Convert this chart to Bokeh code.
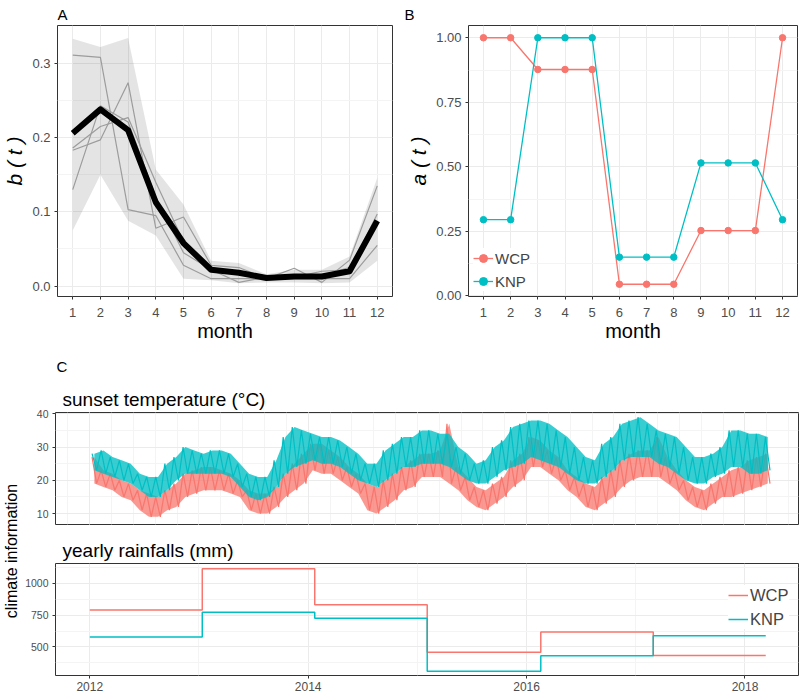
import math
from bokeh.plotting import figure
from bokeh.layouts import row, column
from bokeh.models import (Range1d, FixedTicker, Title, Legend, LegendItem, Grid,
                          PrintfTickFormatter, Label)
from bokeh.embed import file_html
from bokeh.resources import INLINE

FONT = "Liberation Sans"
RED = "#F8766D"
TEAL = "#00BFC4"
TICK_COL = "#4D4D4D"
GRID_MAJ = "#EBEBEB"
GRID_MIN = "#F4F4F4"

# ---------------- Panel A data ----------------
months = [1, 2, 3, 4, 5, 6, 7, 8, 9, 10, 11, 12]
b_mean = [0.206, 0.238, 0.210, 0.113, 0.058, 0.022, 0.018, 0.011, 0.013, 0.013, 0.020, 0.088]
b_upper = [0.333, 0.322, 0.334, 0.157, 0.110, 0.034, 0.031, 0.016, 0.022, 0.022, 0.040, 0.146]
b_lower = [0.075, 0.150, 0.088, 0.068, 0.010, 0.008, 0.004, 0.005, 0.005, 0.004, 0.005, 0.034]
b_run1 = [0.311, 0.308, 0.103, 0.095, 0.028, 0.010, 0.010, 0.010, 0.010, 0.010, 0.010, 0.055]
b_run2 = [0.183, 0.197, 0.274, 0.078, 0.093, 0.028, 0.025, 0.010, 0.024, 0.005, 0.035, 0.135]
b_run3 = [0.130, 0.243, 0.221, 0.120, 0.045, 0.022, 0.005, 0.012, 0.012, 0.020, 0.022, 0.097]
b_run4 = [0.186, 0.215, 0.227, 0.140, 0.060, 0.020, 0.020, 0.010, 0.012, 0.015, 0.025, 0.085]

# ---------------- Panel B data ----------------
a_wcp = [1.00, 1.00, 0.877, 0.877, 0.877, 0.045, 0.045, 0.045, 0.253, 0.253, 0.253, 1.00]
a_knp = [0.295, 0.295, 1.00, 1.00, 1.00, 0.150, 0.150, 0.150, 0.515, 0.515, 0.515, 0.295]

# ---------------- Panel C data ----------------
# monthly high / low of the daily sunset temperature, Jan 2012 .. Mar 2018
knp_hi = [28, 29, 27, 26, 25, 22, 21, 21, 25, 27, 30, 29,
          28, 29, 29, 28, 25, 22, 21, 21, 26, 33, 36, 35,
          34, 33, 33, 32, 30, 28, 25, 25, 29, 31, 33, 33,
          35, 35, 34, 34, 30, 28, 25, 26, 30, 32, 36, 37,
          38, 38, 37, 35, 33, 30, 27, 26, 31, 33, 37, 38,
          39, 37, 35, 34, 33, 30, 27, 27, 28, 30, 35, 35,
          34, 34, 33]
knp_lo = [23, 22, 21, 20, 19, 17, 15, 15, 17, 20, 22, 22,
          22, 22, 22, 21, 18, 15, 14, 15, 18, 22, 24, 25,
          26, 25, 25, 24, 22, 20, 19, 18, 20, 22, 24, 24,
          25, 25, 25, 24, 22, 20, 19, 19, 21, 23, 24, 25,
          27, 26, 25, 24, 22, 20, 19, 19, 21, 23, 26, 27,
          27, 27, 25, 24, 22, 20, 19, 19, 21, 22, 24, 24,
          22, 22, 23]
wcp_hi = [27, 23, 22, 20, 19, 17, 16, 15, 17, 19, 22, 23,
          24, 24, 23, 22, 20, 17, 16, 16, 18, 22, 25, 28,
          31, 31, 29, 27, 24, 22, 19, 18, 20, 22, 24, 26,
          28, 28, 29, 37, 24, 21, 18, 17, 19, 21, 26, 28,
          33, 32, 29, 27, 23, 21, 19, 18, 21, 23, 26, 28,
          29, 29, 33, 27, 23, 20, 18, 17, 19, 21, 23, 24,
          26, 27, 28]
wcp_lo = [19, 18, 17, 15, 14, 11, 9, 9, 11, 12, 15, 16,
          17, 17, 17, 16, 15, 11, 10, 10, 12, 15, 17, 19,
          23, 22, 22, 20, 18, 16, 11, 10, 12, 14, 17, 18,
          21, 21, 21, 19, 17, 14, 12, 11, 13, 15, 18, 20,
          24, 24, 22, 20, 17, 15, 12, 11, 13, 15, 18, 20,
          21, 21, 21, 19, 17, 14, 12, 11, 13, 15, 15, 16,
          17, 18, 19]
temp_start_year = 2012

rain_years = [2012.00, 2013.03, 2014.06, 2015.09, 2016.13, 2017.16, 2018.19]
wcp_rain = [790, 1112, 830, 458, 617, 433, 433]
knp_rain = [578, 772, 725, 310, 432, 587, 587]


def base_style(p):
    p.outline_line_color = "#333333"
    p.outline_line_width = 1
    p.border_fill_color = "white"
    p.background_fill_color = "white"


def style_axis(ax, size="13px", standoff=3):
    ax.axis_line_color = None
    ax.major_tick_line_color = "#333333"
    ax.major_tick_out = 3
    ax.major_tick_in = 0
    ax.minor_tick_line_color = None
    ax.major_label_text_font = FONT
    ax.major_label_text_font_size = size
    ax.major_label_text_color = TICK_COL
    ax.major_label_standoff = standoff
    ax.axis_label_text_font = FONT
    ax.axis_label_text_font_style = "normal"
    ax.axis_label_text_color = "black"
    ax.axis_label_text_font_size = "20px"
    ax.axis_label_standoff = 3


def style_grid(g):
    g.grid_line_color = GRID_MAJ
    g.grid_line_width = 1
    g.minor_grid_line_color = GRID_MIN
    g.minor_grid_line_width = 1


def style_title(t, size="15px", offset=0, standoff=2):
    t.text_font = FONT
    t.text_font_size = size
    t.text_font_style = "normal"
    t.text_color = "black"
    t.align = "left"
    t.offset = offset
    t.standoff = standoff


# ---------------- Panel A ----------------
pA = figure(width=400, height=344, x_range=Range1d(0.45, 12.55), y_range=Range1d(-0.014, 0.351),
            output_backend="svg", toolbar_location=None, title="A",
            min_border_left=53, min_border_right=8, min_border_top=24, min_border_bottom=46)
base_style(pA)
style_title(pA.title, offset=0, standoff=6)
pA.xaxis.ticker = FixedTicker(ticks=months, minor_ticks=[])
pA.yaxis.ticker = FixedTicker(ticks=[0, 0.1, 0.2, 0.3], minor_ticks=[0.05, 0.15, 0.25])
pA.yaxis.formatter = PrintfTickFormatter(format="%.1f")
for ax in pA.axis:
    style_axis(ax)
pA.xaxis.major_label_standoff = 8
pA.xaxis.axis_label_standoff = 0
for g in pA.grid:
    style_grid(g)
pA.xaxis.axis_label = "month"
pA.yaxis.axis_label = "b ( t )"
pA.yaxis.axis_label_text_font_style = "italic"
pA.yaxis.axis_label_text_font_size = "21px"
pA.varea(x=months, y1=b_lower, y2=b_upper, fill_color="black", fill_alpha=0.105)
for run in (b_run1, b_run2, b_run3, b_run4):
    pA.line(months, run, line_color="#9C9C9C", line_width=1.2)
pA.line(months, b_mean, line_color="black", line_width=6, line_join="round")

# ---------------- Panel B ----------------
pB = figure(width=400, height=344, x_range=Range1d(0.45, 12.55), y_range=Range1d(-0.0025, 1.0475),
            output_backend="svg", toolbar_location=None, title="B",
            min_border_left=68, min_border_right=3, min_border_top=24, min_border_bottom=46)
base_style(pB)
style_title(pB.title, offset=-64, standoff=6)
pB.xaxis.ticker = FixedTicker(ticks=months, minor_ticks=[])
pB.yaxis.ticker = FixedTicker(ticks=[0, 0.25, 0.5, 0.75, 1.0],
                              minor_ticks=[0.125, 0.375, 0.625, 0.875])
pB.yaxis.formatter = PrintfTickFormatter(format="%.2f")
for ax in pB.axis:
    style_axis(ax)
pB.xaxis.major_label_standoff = 8
pB.xaxis.axis_label_standoff = 0
for g in pB.grid:
    style_grid(g)
pB.xaxis.axis_label = "month"
pB.yaxis.axis_label = "a ( t )"
pB.yaxis.axis_label_text_font_style = "italic"
pB.yaxis.axis_label_text_font_size = "21px"
lw = pB.line(months, a_wcp, line_color=RED, line_width=1.3)
pw = pB.scatter(months, a_wcp, size=6.5, fill_color=RED, line_color=RED)
lk = pB.line(months, a_knp, line_color=TEAL, line_width=1.3)
pk = pB.scatter(months, a_knp, size=6.5, fill_color=TEAL, line_color=TEAL)
legB = Legend(items=[LegendItem(label="WCP", renderers=[lw, pw]),
                     LegendItem(label="KNP", renderers=[lk, pk])],
              location="bottom_left", margin=5, padding=5, spacing=3,
              glyph_width=20, glyph_height=20, label_height=20, label_standoff=2,
              label_text_font=FONT, label_text_font_size="15px",
              background_fill_color="white", background_fill_alpha=1.0,
              border_line_color=None)
pB.add_layout(legB)

# ---------------- Panel C (temperature) ----------------
x_rng = (2011.686, 2018.49)
temp_x = []
band_x = []
for i in range(len(knp_hi)):
    base = temp_start_year + i / 12.0
    temp_x.extend([base + 0.25 / 12.0, base + 0.75 / 12.0])
    band_x.append(base + 0.5 / 12.0)
knp_zig = []
wcp_zig = []
for h, l in zip(knp_hi, knp_lo):
    knp_zig.extend([h, l])
for h, l in zip(wcp_hi, wcp_lo):
    wcp_zig.extend([h, l])

pC1 = figure(width=778, height=185, x_range=Range1d(*x_rng), y_range=Range1d(6.7, 40.4),
             output_backend="svg", toolbar_location=None, x_axis_location=None,
             title="C",
             min_border_left=31, min_border_right=2, min_border_top=68, min_border_bottom=5)
base_style(pC1)
style_title(pC1.title, size="15px", offset=1, standoff=18)
tS = Title(text="sunset temperature (°C)")
style_title(tS, size="19px", offset=7, standoff=6)
pC1.add_layout(tS, "above")
pC1.yaxis.ticker = FixedTicker(ticks=[10, 20, 30, 40], minor_ticks=[15, 25, 35])
for ax in pC1.axis:
    style_axis(ax, size="10.5px", standoff=3)
for g in pC1.grid:
    style_grid(g)
gx1 = Grid(dimension=0, ticker=FixedTicker(ticks=[2012, 2014, 2016, 2018],
                                           minor_ticks=[2013, 2015, 2017]))
style_grid(gx1)
pC1.add_layout(gx1, "center")
pC1.varea(x=band_x, y1=wcp_lo, y2=wcp_hi, fill_color=RED, fill_alpha=0.75)
pC1.line(temp_x, wcp_zig, line_color=RED, line_width=1.2)
pC1.varea(x=band_x, y1=knp_lo, y2=knp_hi, fill_color=TEAL, fill_alpha=0.78)
pC1.line(temp_x, knp_zig, line_color=TEAL, line_width=1.2)

# ---------------- Panel C (rainfall) ----------------
pC2 = figure(width=778, height=165, x_range=pC1.x_range, y_range=Range1d(277, 1153),
             output_backend="svg", toolbar_location=None,
             title="yearly rainfalls (mm)",
             min_border_left=31, min_border_right=2, min_border_top=34, min_border_bottom=19)
base_style(pC2)
style_title(pC2.title, size="19px", offset=7, standoff=6)
pC2.xaxis.ticker = FixedTicker(ticks=[2012, 2014, 2016, 2018], minor_ticks=[2013, 2015, 2017])
pC2.yaxis.ticker = FixedTicker(ticks=[500, 750, 1000], minor_ticks=[375, 625, 875, 1125])
for ax in pC2.axis:
    style_axis(ax, size="10.5px", standoff=3)
pC2.xaxis.major_label_text_font_size = "12px"
pC2.xaxis.major_label_standoff = 2
for g in pC2.grid:
    style_grid(g)
sw = pC2.step(rain_years, wcp_rain, mode="after", line_color=RED, line_width=1.5)
sk = pC2.step(rain_years, knp_rain, mode="after", line_color=TEAL, line_width=1.5)
legC = Legend(items=[LegendItem(label="WCP", renderers=[sw]),
                     LegendItem(label="KNP", renderers=[sk])],
              location=(673, 46), margin=0, padding=3, spacing=4,
              glyph_width=20, glyph_height=20, label_height=20, label_standoff=2,
              label_text_font=FONT, label_text_font_size="16.5px",
              background_fill_color="white", background_fill_alpha=1.0,
              border_line_color=None)
pC2.add_layout(legC)

# ---------------- shared y label of panel C ----------------
pL = figure(width=22, height=350, x_range=Range1d(0, 1), y_range=Range1d(0, 1),
            output_backend="svg", toolbar_location=None,
            x_axis_location=None, y_axis_location=None,
            min_border_left=0, min_border_right=0, min_border_top=0, min_border_bottom=0)
pL.outline_line_color = None
pL.grid.visible = False
pL.add_layout(Label(x=0.5, y=0.41, text="climate information", angle=90, angle_units="deg",
                    text_align="center", text_baseline="middle",
                    text_font=FONT, text_font_size="16px", text_color="black"))

layout = column(row(pA, pB), row(pL, column(pC1, pC2)))
open("out.html", "w").write(file_html(layout, INLINE))
